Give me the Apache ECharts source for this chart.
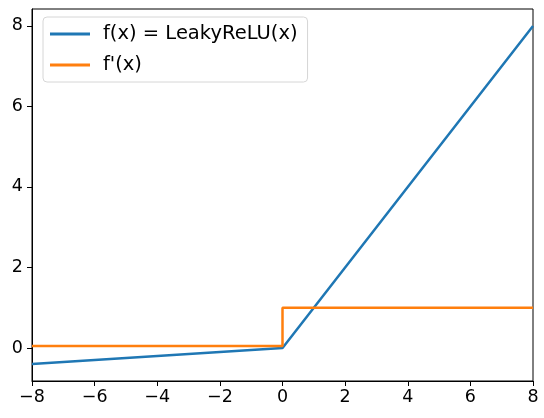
<!DOCTYPE html>
<html>
<head>
<meta charset="utf-8">
<script src="https://cdn.jsdelivr.net/npm/echarts@6/dist/echarts.min.js"></script>
<style>html,body{margin:0;padding:0;background:#fff}#c{width:544px;height:418px}</style>
</head>
<body>
<div id="c"></div>
<script>
const fX = [-8, 0, 8];
const fY = [-0.4, 0, 8];
const dX = [-8, 0, 0, 8];
const dY = [0.05, 0.05, 1, 1];
const xTicks = [-8, -6, -4, -2, 0, 2, 4, 6, 8];
const yTicks = [0, 2, 4, 6, 8];
const names = ['f(x) = LeakyReLU(x)', "f'(x)"];

const chart = echarts.init(document.getElementById('c'), null, {renderer: 'canvas'});
const font = 'DejaVu Sans';
chart.setOption({
  animation: false,
  textStyle: {fontFamily: font},
  grid: {left: 32, right: 11, top: 9, bottom: 37, show: true, borderColor: '#000', borderWidth: 1, backgroundColor: 'transparent'},
  legend: {
    left: 43, top: 17, orient: 'vertical', itemGap: 9,
    itemWidth: 40, itemHeight: 3,
    padding: [6, 10, 6, 7],
    backgroundColor: 'rgba(255,255,255,0.8)', borderColor: '#d6d6d6', borderWidth: 1, borderRadius: 4,
    textStyle: {fontSize: 19.5, lineHeight: 22, color: '#000', fontFamily: font, padding: [0, 0, 0, 8]},
    data: names.map(n => ({name: n, icon: 'rect'}))
  },
  xAxis: {
    type: 'value', min: -8, max: 8,
    splitLine: {show: false},
    axisLine: {show: true, onZero: false, lineStyle: {color: '#000'}},
    axisTick: {show: true, length: 5, customValues: xTicks, lineStyle: {color: '#000'}},
    axisLabel: {fontSize: 17.5, color: '#000', margin: 7, fontFamily: font, customValues: xTicks,
      formatter: v => v < 0 ? '\u2212' + Math.abs(v) : String(v)}
  },
  yAxis: {
    type: 'value', min: -0.82, max: 8.42,
    splitLine: {show: false},
    axisLine: {show: true, onZero: false, lineStyle: {color: '#000'}},
    axisTick: {show: true, length: 5, customValues: yTicks, lineStyle: {color: '#000'}},
    axisLabel: {fontSize: 17.5, color: '#000', margin: 9, fontFamily: font, customValues: yTicks}
  },
  series: [
    {name: names[0], type: 'line', symbol: 'none', data: fX.map((x, i) => [x, fY[i]]),
      lineStyle: {color: '#1f77b4', width: 2.5}, itemStyle: {color: '#1f77b4'}},
    {name: names[1], type: 'line', symbol: 'none', data: dX.map((x, i) => [x, dY[i]]),
      lineStyle: {color: '#ff7f0e', width: 2.5}, itemStyle: {color: '#ff7f0e'}}
  ]
});
</script>
</body>
</html>
